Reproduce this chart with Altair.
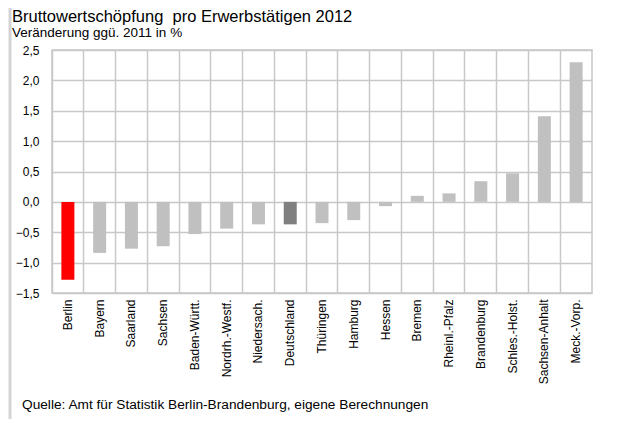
import altair as alt
import pandas as pd

regions = ["Berlin", "Bayern", "Saarland", "Sachsen", "Baden-Württ.", "Nordrh.-Westf.",
           "Niedersach.", "Deutschland", "Thüringen", "Hamburg", "Hessen", "Bremen",
           "Rheinl.-Pfalz", "Brandenburg", "Schles.-Holst.", "Sachsen-Anhalt", "Meck.-Vorp."]
values = [-1.28, -0.84, -0.77, -0.73, -0.53, -0.44, -0.37, -0.37, -0.35, -0.30, -0.07,
          0.10, 0.14, 0.34, 0.47, 1.41, 2.30]
colors = ["#FF0000", "#C0C0C0", "#C0C0C0", "#C0C0C0", "#C0C0C0", "#C0C0C0", "#C0C0C0",
          "#808080", "#C0C0C0", "#C0C0C0", "#C0C0C0", "#C0C0C0", "#C0C0C0", "#C0C0C0",
          "#C0C0C0", "#C0C0C0", "#C0C0C0"]
y_ticks = [-1.5, -1.0, -0.5, 0.0, 0.5, 1.0, 1.5, 2.0, 2.5]

title_text = "Bruttowertschöpfung \u00a0pro Erwerbstätigen 2012"
subtitle_text = "Veränderung ggü. 2011 in %"
source_text = "Quelle: Amt für Statistik Berlin-Brandenburg, eigene Berechnungen"

df = pd.DataFrame({"region": regions, "value": values, "color": colors})
one = pd.DataFrame({"k": [0]})

FONT = "Liberation Sans"
GRID = "#C8C8C8"

bars = alt.Chart(df).mark_bar(size=13).encode(
    x=alt.X("region:N", sort=regions,
            scale=alt.Scale(paddingInner=0, paddingOuter=0),
            axis=alt.Axis(title=None, labelAngle=-90, labelAlign="right",
                          labelBaseline="middle", labelPadding=6, labelFontSize=12,
                          labelFont=FONT, labelColor="#000000", ticks=False,
                          domain=False, grid=True, bandPosition=0, gridColor=GRID,
                          gridWidth=1.5)),
    y=alt.Y("value:Q", scale=alt.Scale(domain=[-1.5, 2.5], nice=False),
            axis=alt.Axis(title=None, values=y_ticks, ticks=False, domain=False,
                          labelPadding=13, labelFontSize=12, labelFont=FONT,
                          labelColor="#000000", gridColor=GRID, gridWidth=1.5,
                          labelExpr="replace(format(datum.value, '.1f'), '.', ',')")),
    color=alt.Color("color:N", scale=None),
)

frame_left = alt.Chart(one).mark_rule(color="#D4D4D4", strokeWidth=3).encode(
    x=alt.value(-42), y=alt.value(-50), y2=alt.value(376))
frame_bottom = alt.Chart(one).mark_rule(color="#D4D4D4", strokeWidth=3).encode(
    x=alt.value(-42), x2=alt.value(570), y=alt.value(375))

title = alt.Chart(one).mark_text(align="left", baseline="alphabetic", fontSize=16.5,
                                 font=FONT, color="#000000").encode(
    x=alt.value(-40), y=alt.value(-28), text=alt.value(title_text))
subtitle = alt.Chart(one).mark_text(align="left", baseline="alphabetic", fontSize=13.5,
                                    font=FONT, color="#000000").encode(
    x=alt.value(-40), y=alt.value(-13.5), text=alt.value(subtitle_text))
source = alt.Chart(one).mark_text(align="left", baseline="middle", fontSize=13.7,
                                  font=FONT, color="#000000").encode(
    x=alt.value(-30), y=alt.value(355), text=alt.value(source_text))

chart = alt.layer(bars, frame_left, frame_bottom, title, subtitle, source).properties(
    width=540, height=243,
    autosize=alt.AutoSizeParams(type="none"),
    padding={"left": 44, "top": 42, "right": 22, "bottom": 126},
    background="#FFFFFF",
).configure_view(stroke=GRID, strokeWidth=1.5)

chart.save("out.html", embed_options={"renderer": "svg", "actions": False})
